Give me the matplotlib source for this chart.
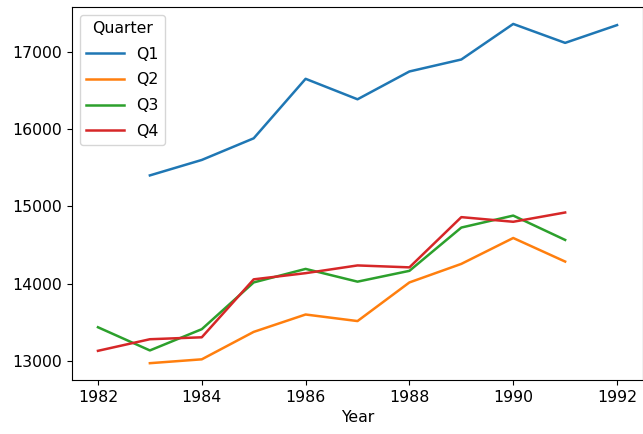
import numpy as np
import pandas as pd
import matplotlib
matplotlib.use("Agg")
import matplotlib.pyplot as plt

YEARS = [1982, 1983, 1984, 1985, 1986, 1987, 1988, 1989, 1990, 1991, 1992]

# NaN where a quarter has no value for that year
Q1 = [np.nan, 15400, 15600, 15880, 16650, 16385, 16745, 16900, 17360, 17115, 17345]
Q2 = [np.nan, 12970, 13020, 13375, 13600, 13515, 14015, 14255, 14590, 14285, np.nan]
Q3 = [13435, 13135, 13410, 14015, 14190, 14025, 14165, 14725, 14880, 14565, np.nan]
Q4 = [13130, 13280, 13305, 14055, 14135, 14235, 14210, 14860, 14800, 14920, np.nan]

df = pd.DataFrame({"Q1": Q1, "Q2": Q2, "Q3": Q3, "Q4": Q4}, index=YEARS)
df.index.name = "Year"
df.columns.name = "Quarter"

plt.rcParams["font.size"] = 11.3

fig = plt.figure(figsize=(6.43, 4.34), dpi=100)
ax = fig.add_axes([0.112, 0.124, 0.888, 0.86])

df.plot(ax=ax, linewidth=1.8)

ax.set_xticks([1982, 1984, 1986, 1988, 1990, 1992])
ax.set_yticks([13000, 14000, 15000, 16000, 17000])
ax.set_xlim(1981.5, 1992.5)
ax.set_ylim(12750, 17580)
ax.legend(title="Quarter", loc="upper left", labelspacing=0.68, handlelength=2.4)

fig.savefig("out.png", dpi=100)
